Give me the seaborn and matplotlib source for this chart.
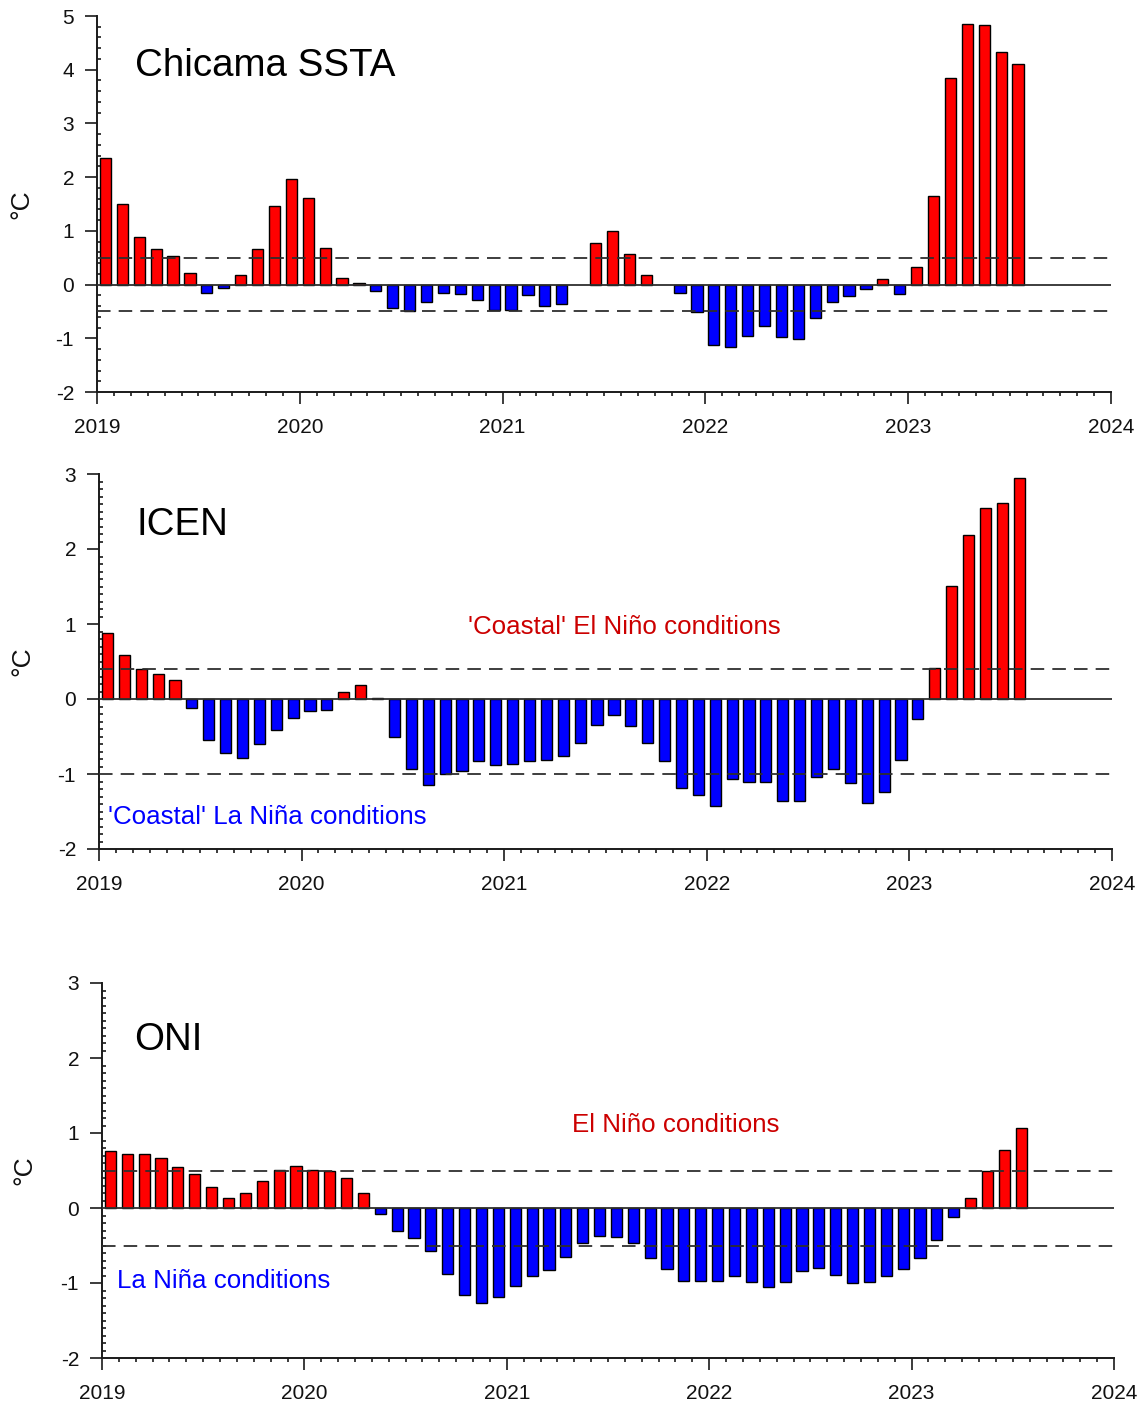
import numpy as np
import pandas as pd
import matplotlib
matplotlib.use("Agg")
import matplotlib.pyplot as plt
from matplotlib.ticker import MultipleLocator, FixedLocator, FormatStrFormatter
import seaborn as sns

nan = np.nan

# ---------------- data (monthly, Jan 2019 - Jul 2023) ----------------
months = pd.date_range("2019-01-01", "2023-07-01", freq="MS")

chicama_ssta = [
    2.36, 1.50, 0.88, 0.66, 0.54, 0.22, -0.15, -0.07, 0.17, 0.66, 1.47, 1.97,      # 2019
    1.62, 0.69, 0.13, 0.02, -0.12, -0.44, -0.49, -0.32, -0.15, -0.17, -0.29, -0.47,  # 2020
    -0.48, -0.20, -0.40, -0.37, nan, 0.78, 1.00, 0.57, 0.17, nan, -0.16, -0.51,      # 2021
    -1.12, -1.16, -0.95, -0.78, -0.98, -1.01, -0.63, -0.32, -0.21, -0.09, 0.10, -0.17,  # 2022
    0.33, 1.65, 3.84, 4.86, 4.84, 4.33, 4.10,                                        # 2023
]

icen = [
    0.88, 0.59, 0.40, 0.33, 0.25, -0.12, -0.55, -0.72, -0.78, -0.60, -0.41, -0.25,
    -0.16, -0.14, 0.10, 0.19, 0.02, -0.51, -0.93, -1.14, -1.00, -0.96, -0.83, -0.88,
    -0.86, -0.83, -0.81, -0.76, -0.58, -0.34, -0.21, -0.36, -0.58, -0.83, -1.18, -1.28,
    -1.43, -1.06, -1.11, -1.11, -1.36, -1.36, -1.04, -0.93, -1.12, -1.39, -1.24, -0.81,
    -0.26, 0.42, 1.51, 2.19, 2.55, 2.62, 2.95,
]

oni = [
    0.76, 0.72, 0.72, 0.67, 0.55, 0.46, 0.28, 0.14, 0.20, 0.36, 0.51, 0.56,
    0.51, 0.50, 0.40, 0.20, -0.08, -0.30, -0.40, -0.57, -0.88, -1.16, -1.26, -1.18,
    -1.04, -0.91, -0.83, -0.65, -0.47, -0.37, -0.38, -0.47, -0.66, -0.81, -0.97, -0.97,
    -0.97, -0.91, -0.98, -1.05, -0.98, -0.84, -0.80, -0.89, -1.00, -0.98, -0.91, -0.81,
    -0.66, -0.42, -0.12, 0.14, 0.50, 0.77, 1.07,
]

year_ticks = [2019, 2020, 2021, 2022, 2023, 2024]

panel_titles = ["Chicama SSTA", "ICEN", "ONI"]
thresholds = [(0.5, -0.5), (0.4, -1.0), (0.5, -0.5)]
ylims = [(-2, 5), (-2, 3), (-2, 3)]
y_minor = [0.2, 0.1, 0.1]
warm_labels = [None, "'Coastal' El Niño conditions", "El Niño conditions"]
cold_labels = [None, "'Coastal' La Niña conditions", "La Niña conditions"]

# ---------------- style ----------------
sns.set_style("ticks")
plt.rcParams["font.family"] = ["Liberation Sans", "DejaVu Sans"]
plt.rcParams["axes.unicode_minus"] = False

W, H = 1143, 1407
fig = plt.figure(figsize=(W / 100, H / 100), dpi=100)

# axes boxes in pixels: left, right, top, bottom
boxes = [(97, 1111, 16, 392), (99, 1112, 474, 849), (102, 1114, 983, 1358)]
title_pos = [(0.0375, 0.867), (0.0375, 0.864), (0.0316, 0.848)]
warm_pos = [None, (0.364, 0.592), (0.464, 0.621)]
cold_pos = [None, (0.0089, 0.085), (0.0148, 0.205)]
ylabel_px = [33, 34, 36]

series = [chicama_ssta, icen, oni]
spine_col = "#1a1a1a"
ref_col = "#2e2e2e"

dec_year = months.year + (months.month - 0.5) / 12.0

for i, vals in enumerate(series):
    l, r, t, b = boxes[i]
    ax = fig.add_axes([l / W, 1 - b / H, (r - l) / W, (b - t) / H])
    df = pd.DataFrame({"t": dec_year, "v": vals}).dropna()
    df["sign"] = np.where(df["v"] >= 0, "warm", "cold")
    sns.barplot(data=df, x="t", y="v", hue="sign", hue_order=["warm", "cold"],
                palette={"warm": "#ff0000", "cold": "#0000ff"}, saturation=1,
                native_scale=True, dodge=False, width=0.66, edgecolor="black",
                linewidth=1.0, errorbar=None, legend=False, ax=ax, zorder=2)

    up, lo = thresholds[i]
    ax.axhline(0, color=ref_col, lw=1.3, zorder=3)
    for th in (up, lo):
        ax.axhline(th, color=ref_col, lw=1.3, ls=(0, (7.5, 4.5)), zorder=4)

    ax.set_xlim(year_ticks[0], year_ticks[-1])
    ax.set_ylim(*ylims[i])
    ax.xaxis.set_major_locator(FixedLocator(year_ticks))
    ax.xaxis.set_major_formatter(FormatStrFormatter("%d"))
    ax.xaxis.set_minor_locator(MultipleLocator(1 / 12))
    ax.yaxis.set_major_locator(MultipleLocator(1))
    ax.yaxis.set_major_formatter(FormatStrFormatter("%d"))
    ax.yaxis.set_minor_locator(MultipleLocator(y_minor[i]))

    ax.tick_params(axis="both", which="major", direction="out", length=8.5,
                   width=1.2, color=spine_col, labelsize=15, labelcolor="#111111")
    ax.tick_params(axis="x", which="major", pad=10)
    ax.tick_params(axis="y", which="major", pad=8)
    ax.tick_params(axis="x", which="minor", direction="out", length=3.2,
                   width=1.2, color=spine_col)
    ax.tick_params(axis="y", which="minor", direction="in", length=3.2,
                   width=1.2, color=spine_col)

    sns.despine(ax=ax)
    for s in ("left", "bottom"):
        ax.spines[s].set_color(spine_col)
        ax.spines[s].set_linewidth(1.4)

    ax.set_xlabel("")
    ax.set_ylabel("°C", fontsize=19, color="#111111")
    ax.yaxis.set_label_coords(-(l - ylabel_px[i]) / (r - l), 0.5)

    tx, ty = title_pos[i]
    ax.text(tx, ty, panel_titles[i], transform=ax.transAxes, fontsize=27.7,
            color="black", ha="left", va="center")
    if warm_labels[i]:
        wx, wy = warm_pos[i]
        ax.text(wx, wy, warm_labels[i], transform=ax.transAxes, fontsize=18.6,
                color="#cc0000", ha="left", va="center")
        cx, cy = cold_pos[i]
        ax.text(cx, cy, cold_labels[i], transform=ax.transAxes, fontsize=18.6,
                color="#0000ff", ha="left", va="center")

fig.savefig("out.png", dpi=100, facecolor="white")
